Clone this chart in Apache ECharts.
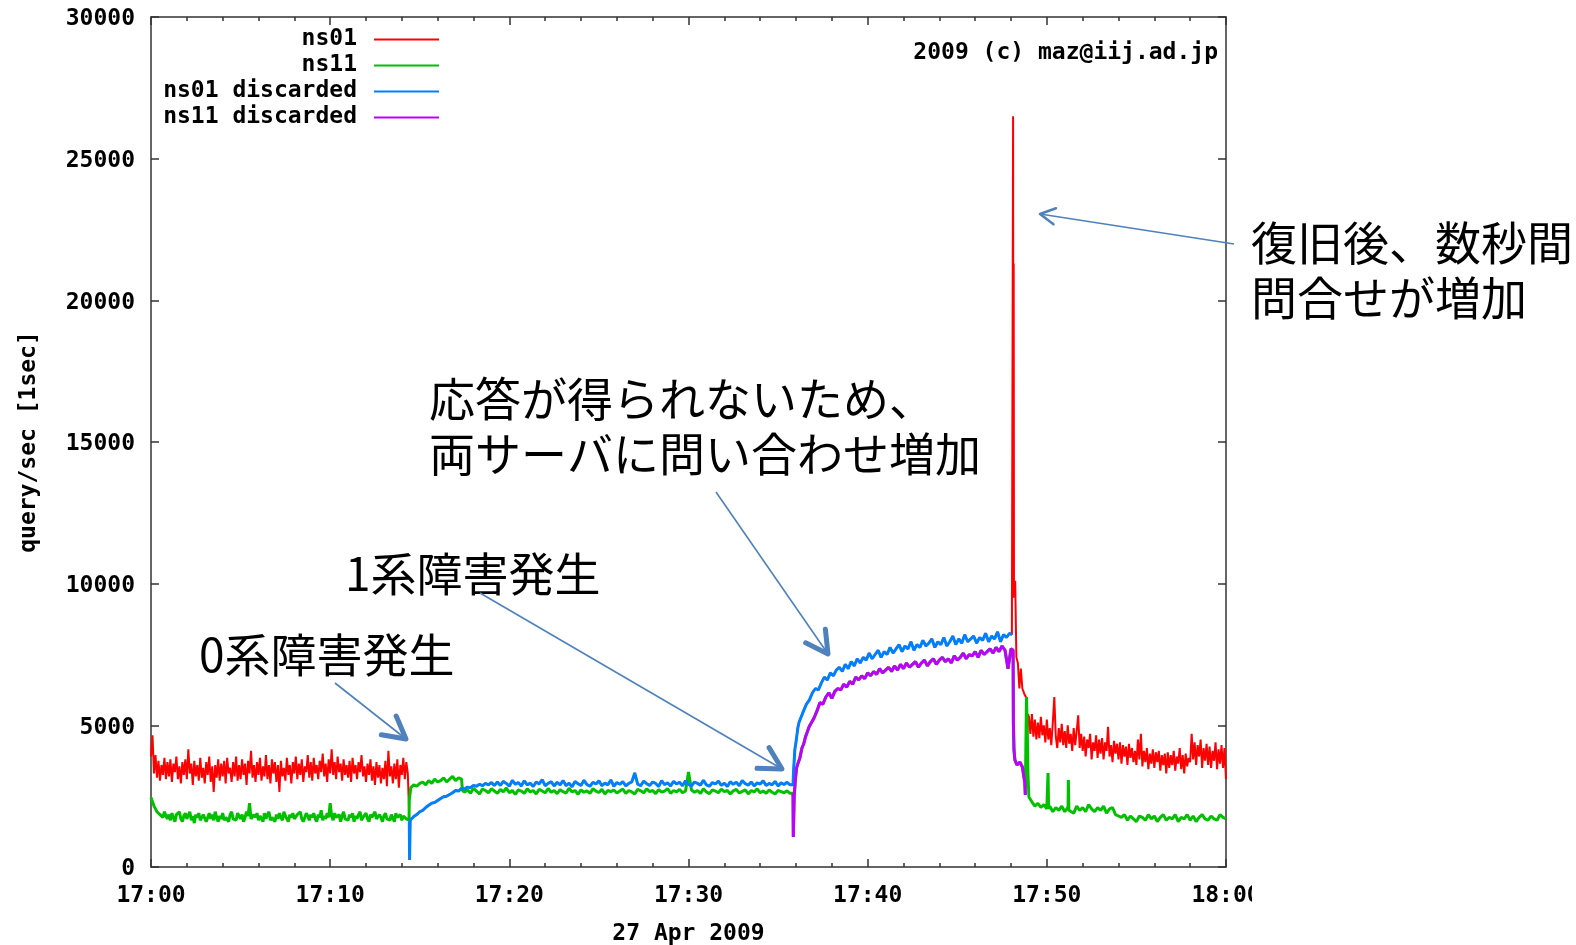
<!DOCTYPE html>
<html><head><meta charset="utf-8">
<script src="https://cdn.jsdelivr.net/npm/echarts/dist/echarts.min.js"></script>
<style>html,body{margin:0;padding:0;background:#fff;}#c{width:1576px;height:945px;}</style>
</head><body><div id="c"></div>
<script>
// time = seconds after 17:00:00
const xTickLabels = ['17:00','17:10','17:20','17:30','17:40','17:50','18:00'];
const yTickLabels = ['0','5000','10000','15000','20000','25000','30000'];
const seriesNames = ['ns01','ns11','ns01 discarded','ns11 discarded'];

// ns01 (red) before failure: every 5 s, t = 0..860
const ns01Before = [
 3900, 4650, 3300, 3950, 3150, 3750, 3050, 3600, 3250, 3850, 3100, 3700,
 3200, 3800, 3000, 3650, 3350, 3900, 3100, 3550, 2950, 3700, 3250, 3800,
 3100, 4150, 3300, 3650, 2900, 3750, 3200, 3600, 3050, 3850, 3150, 3500,
 2950, 3700, 3250, 3900, 3000, 3550, 2650, 3600, 3150, 3800, 3050, 3650,
 3200, 3750, 2950, 3850, 3300, 3500, 3000, 3700, 3200, 3900, 3050, 3600,
 3100, 3800, 3250, 3650, 2900, 3750, 3300, 4100, 3150, 3600, 3000, 3700,
 3250, 3850, 3050, 3550, 3200, 3950, 3100, 3600, 2950, 3800, 3300, 3700,
 3000, 3600, 2650, 3750, 3200, 3500, 3050, 3850, 3250, 3600, 2950, 3700,
 3300, 3900, 3100, 3650, 3250, 3800, 3000, 3550, 3350, 3950, 3150, 3700,
 3050, 3850, 3300, 3600, 3100, 3750, 3350, 4000, 3200, 3650, 3000, 3800,
 3300, 4150, 3250, 3700, 3100, 3900, 3350, 3650, 3050, 3800, 3250, 3600,
 3150, 3750, 3000, 3850, 3300, 3600, 3100, 3700, 3350, 3950, 3200, 3550,
 3000, 3650, 3250, 3800, 3050, 3550, 2900, 3700, 3150, 3600, 2950, 3500,
 3100, 3750, 2850, 4100, 3200, 3550, 2950, 3650, 3100, 3800, 2800, 3600,
 3250, 3850, 3100, 3700, 3300];
const ns01BeforeEvents = [[863, 2360]];
// ns01 after recovery
const ns01AfterEvents = [[2887, 26500], [2888, 9500], [2889, 21300], [2890, 9700], [2894, 10100],
 [2898, 7400], [2903, 7200], [2908, 6300], [2913, 7000], [2918, 6300], [2925, 6100], [2930, 6000],
 [2934, 4500], [2937, 5400]];
// every 5 s, t = 2940..3600
const ns01After = [
 5300, 4700, 5400, 4600, 5200, 4500, 5100, 4550, 5300, 4650, 5000, 4400,
 5200, 4500, 4900, 4300, 5100, 6000, 4600, 4200, 4900, 4400, 5050, 4300,
 4800, 4200, 5000, 4350, 4700, 4100, 4900, 4300, 4800, 5350, 4200, 4700,
 4100, 4600, 3900, 4500, 4200, 4700, 3800, 4400, 4100, 4650, 3850, 4500,
 4000, 4550, 3800, 4400, 4100, 4950, 3900, 4300, 3700, 4450, 4000, 4350,
 3800, 4400, 3650, 4300, 3900, 4250, 3600, 4350, 3850, 4200, 3700, 4100,
 3600, 4500, 3800, 4700, 3550, 4100, 3700, 4200, 3450, 4000, 3650, 4150,
 3500, 4050, 3700, 4100, 3400, 3950, 3600, 4000, 3300, 4050, 3500, 3950,
 3600, 4100, 3400, 3900, 3650, 4200, 3450, 3950, 3300, 4000, 3550, 3850,
 3700, 4700, 3800, 4400, 3600, 4300, 3900, 4500, 3500, 4200, 3750, 4350,
 3600, 4250, 3500, 4100, 3750, 4400, 3450, 4150, 3650, 4300, 3500, 4200,
 3100];

// ns11 (green) before ns01 failure: every 5 s, t = 0..860
const ns11Start = [
 2450, 2300, 2150, 2050, 1950, 2000, 1850, 1900, 1750, 1950, 1800, 1700,
 1850, 1650, 1900, 1750, 1600, 1850, 1800, 1950, 1700, 1600, 1800, 1900,
 1700, 1750, 1950, 1650, 1800, 1550, 1850, 1750, 1900, 1650, 1700, 1850,
 1800, 1600, 1750, 1900, 1700, 1850, 1650, 1950, 1750, 1600, 1800, 1700,
 1900, 1650, 1750, 1800, 1600, 1850, 1950, 1700, 1750, 1650, 1900, 1800,
 1700, 1850, 1600, 1750, 1950, 1800, 2250, 1700, 1650, 1850, 1750, 1900,
 1650, 1800, 1750, 1600, 1900, 1700, 1850, 1950, 1650, 1750, 1800, 1600,
 1850, 1700, 1900, 1750, 1650, 1950, 1800, 1700, 1600, 1850, 1750, 1900,
 1700, 1650, 1850, 1800, 1950, 1700, 1600, 1750, 1900, 1800, 1650, 1850,
 1750, 1900, 1700, 1600, 1850, 1750, 2000, 1650, 1800, 1700, 1900, 1750,
 2250, 1800, 1650, 1900, 1750, 1700, 1850, 1600, 1800, 1950, 1700, 1750,
 1650, 1850, 1750, 1900, 1600, 1800, 1700, 1850, 1950, 1650, 1750, 1800,
 1900, 1700, 1600, 1850, 1750, 1800, 1950, 1700, 1650, 1850, 1750, 1600,
 1800, 1900, 1700, 1750, 1650, 1850, 1800, 1600, 1900, 1750, 1700, 1850,
 1650, 1800, 1750, 1700, 1750];
// ns11 (green) while ns01 down: every 10 s, t = 870..2140
const ns11Mid = [
 2800, 2900, 2850, 2950, 3000, 2900, 3050, 2950, 3100, 3000, 3050, 3150, 3000, 3100, 3200, 3050, 3150, 3100,
 2650, 2720, 2600, 2780, 2680, 2580, 2750, 2700, 2620, 2760,
 2680, 2600, 2740, 2650, 2790, 2620, 2700, 2560, 2720, 2680,
 2600, 2760, 2650, 2700, 2580, 2740, 2680, 2620, 2770, 2640,
 2700, 2590, 2730, 2660, 2610, 2780, 2650, 2700, 2570, 2720,
 2640, 2690, 2600, 2760, 2680, 2630, 2740, 2580, 2700, 2660,
 2720, 2610, 2680, 2750, 2600, 2700, 2650, 2580, 2740, 2690,
 2620, 2760, 2660, 2700, 2590, 2730, 2640, 2680, 2770, 2600,
 2700, 2650, 2740, 2620, 2680, 3350, 2720, 2640, 2700, 2600,
 2760, 2650, 2590, 2720, 2680, 2620, 2750, 2660, 2700, 2580,
 2690, 2740, 2610, 2670, 2720, 2580, 2700, 2650, 2760, 2620,
 2680, 2600, 2720, 2640, 2580, 2700, 2660, 2620, 2690, 2600];
const ns11BeforeEvents = [[864, 1650], [865, 2360], [1043, 2700]];
const ns11AfterEvents = [[2930, 4480], [2932, 6000], [2935, 4500], [2937, 3180], [2940, 2470],
 [3003, 2100], [3004, 3320], [3006, 2050], [3071, 2000], [3072, 3070], [3074, 2000]];
// every 10 s, t = 2950..3600
const ns11After = [
 2300, 2150, 2250, 2100, 2200, 2050, 2150, 1950, 2100, 2000,
 2150, 1950, 2100, 2050, 1900, 2150, 2000, 2100, 1950, 2200,
 2050, 1950, 2100, 2000, 2150, 1900, 2050, 2100, 1850, 1800,
 1750, 1850, 1650, 1800, 1700, 1600, 1800, 1750, 1650, 1850,
 1700, 1800, 1600, 1750, 1850, 1650, 1750, 1700, 1850, 1600,
 1750, 1700, 1850, 1650, 1800, 1600, 1750, 1850, 1700, 1650,
 1800, 1700, 1650, 1850, 1750, 1700];

// ns01 discarded (blue)
const ns01DiscEvents = [[865, 1590], [866, 250], [868, 1650],
 [2150, 2900], [2152, 3420], [2156, 4130], [2161, 4480], [2166, 4900], [2170, 5100], [2883, 8200]];
// every 10 s, t = 870..2140
const ns01DiscA = [
 1650, 1780, 1850, 1950, 2000, 2100, 2180, 2250, 2280, 2350,
 2420, 2480, 2500, 2560, 2620, 2700, 2680, 2780, 2750, 2820,
 2800, 2880, 2850, 2920, 2870, 2950, 2900, 2980, 2880, 3000,
 2880, 3020, 2950, 2850, 3060, 2920, 2980, 2860, 3040, 2900,
 2960, 2840, 3000, 2930, 3080, 2870, 2950, 3010, 2860, 2990,
 2900, 3050, 2870, 2960, 2830, 3020, 2940, 2880, 3060, 2910,
 2850, 2990, 2930, 3040, 2870, 2960, 2900, 3070, 2850, 2980,
 2920, 3010, 2860, 2950, 3000, 3320, 2920, 2870, 3030, 2940,
 2880, 3000, 2950, 2840, 3050, 2910, 2970, 2860, 3020, 2930,
 2990, 2870, 3040, 2920, 2860, 3000, 2950, 2890, 3060, 2900,
 2850, 2980, 2930, 3030, 2880, 2960, 2840, 3010, 2920, 2990,
 2870, 3050, 2940, 2890, 3000, 2860, 2970, 2930, 3040, 2880,
 2950, 2900, 3020, 2860, 2970, 2910, 2990, 2900];
// every 10 s, t = 2175..2875
const ns01DiscB = [
 5150, 5500, 5750, 5900, 6150, 6300, 6250, 6500, 6700, 6600,
 6850, 6750, 6950, 7050, 6900, 7150, 7000, 7250, 7100, 7350,
 7200, 7400, 7300, 7550, 7350, 7500, 7650, 7400, 7600, 7500,
 7750, 7550, 7700, 7850, 7600, 7800, 7700, 7950, 7650, 7850,
 7750, 8000, 7800, 7900, 8050, 7750, 7950, 7850, 8100, 7800,
 7950, 8150, 7850, 8050, 7900, 8200, 7950, 8050, 8150, 7900,
 8100, 8000, 8250, 7950, 8150, 8050, 8300, 7950, 8200, 8100,
 8250];

// ns11 discarded (magenta)
const ns11DiscEvents = [[2150, 2600], [2151, 1060], [2154, 2500], [2158, 3100], [2162, 3500],
 [2168, 3700], [2173, 3850], [2180, 4200], [2186, 4350], [2192, 4600], [2198, 4650], [2204, 4950],
 [2887, 7650], [2888, 5080], [2890, 4130], [2893, 3780], [2900, 3600], [2910, 3700], [2918, 3530],
 [2923, 3600], [2926, 3000], [2928, 2540]];
// every 10 s, t = 2210..2880
const ns11Disc = [
 5000, 5250, 5500, 5800, 5750, 6000, 6150, 5950, 6200, 6300,
 6250, 6450, 6350, 6550, 6450, 6700, 6600, 6750, 6650, 6850,
 6750, 6900, 6800, 7000, 6850, 6950, 7050, 6900, 7100, 6950,
 7150, 7000, 7200, 7050, 7150, 7250, 7050, 7200, 7300, 7100,
 7250, 7350, 7150, 7300, 7400, 7250, 7350, 7200, 7450, 7300,
 7400, 7550, 7350, 7500, 7450, 7600, 7400, 7650, 7500, 7600,
 7700, 7550, 7750, 7600, 7800, 7650, 7000, 7700];

function seq(start, step, vals) { return vals.map((v, i) => [start + i * step, v]); }
function merge(...parts) { return [].concat(...parts).sort((a, b) => a[0] - b[0]); }

const blueData = merge(ns01DiscEvents, seq(870, 10, ns01DiscA), seq(2175, 10, ns01DiscB));
const magentaData = merge(ns11DiscEvents, seq(2210, 10, ns11Disc));
// while a server is down all its queries are discarded: total == discarded (drawn underneath)
const redData = merge(seq(0, 5, ns01Before), ns01BeforeEvents, blueData, ns01AfterEvents, seq(2940, 5, ns01After));
const greenData = merge(seq(0, 5, ns11Start), ns11BeforeEvents, seq(870, 10, ns11Mid), magentaData, ns11AfterEvents, seq(2950, 10, ns11After));

const colors = ['#ff0000', '#00c000', '#0080ff', '#c000ff'];
const widths = [2, 3, 3, 3];
const MONO = '"DejaVu Sans Mono", "Liberation Mono", monospace';
const JP = '"Noto Sans CJK JP", "Noto Sans CJK SC", sans-serif';
const AXC = '#333';
const ARC = '#4f81bd';
const FS = 23;

const chart = echarts.init(document.getElementById('c'), null, {renderer: 'canvas'});

function arrow(x1, y1, x2, y2, head, w) {
  const a = Math.atan2(y2 - y1, x2 - x1);
  const p1 = [x2 - head * Math.cos(a - 0.5), y2 - head * Math.sin(a - 0.5)];
  const p2 = [x2 - head * Math.cos(a + 0.5), y2 - head * Math.sin(a + 0.5)];
  return [
    {type: 'line', shape: {x1, y1, x2, y2}, style: {stroke: ARC, lineWidth: 1.6}, z: 50},
    {type: 'polyline', shape: {points: [p1, [x2, y2], p2]}, style: {stroke: ARC, lineWidth: w, fill: null, lineCap: 'round', lineJoin: 'round'}, z: 50}
  ];
}
function jpText(str, x, y) {
  return {type: 'text', x: x, y: y, z: 50,
    style: {text: str, font: '46px ' + JP, fill: '#000', align: 'left', verticalAlign: 'middle'}};
}

const tickX = (v) => xTickLabels[Math.round(v / 600)];
const tickY = (v) => '{a|' + yTickLabels[Math.round(v / 5000)] + '}';

const xBase = {type: 'value', min: 0, max: 3600, interval: 600,
  axisLine: {show: true, onZero: false, lineStyle: {color: AXC, width: 1.5}},
  axisTick: {show: true, inside: true, length: 8, lineStyle: {color: AXC, width: 1.5}},
  minorTick: {show: true, splitNumber: 5, length: 4, lineStyle: {color: AXC, width: 1.5}},
  splitLine: {show: false}, minorSplitLine: {show: false}};
const yBase = {type: 'value', min: 0, max: 30000, interval: 5000,
  axisLine: {show: true, onZero: false, lineStyle: {color: AXC, width: 1.5}},
  axisTick: {show: true, inside: true, length: 8, lineStyle: {color: AXC, width: 1.5}},
  splitLine: {show: false}};
const labelFont = {fontFamily: MONO, fontWeight: 'bold', fontSize: FS, color: '#000'};

const option = {
  backgroundColor: '#fff',
  animation: false,
  grid: {left: 151, right: 350, top: 17, bottom: 78, containLabel: false, outerBoundsMode: 'none'},
  xAxis: [
    Object.assign({}, xBase, {position: 'bottom',
      axisLabel: Object.assign({show: true, margin: 18, formatter: tickX, showMinLabel: true, showMaxLabel: true}, labelFont),
      name: '27 Apr 2009', nameLocation: 'middle', nameGap: 56,
      nameTextStyle: Object.assign({}, labelFont)}),
    Object.assign({}, xBase, {position: 'top', axisLabel: {show: false}})
  ],
  yAxis: [
    Object.assign({}, yBase, {position: 'left',
      axisLabel: Object.assign({show: true, margin: 16, formatter: tickY, showMinLabel: true, showMaxLabel: true,
        rich: {a: Object.assign({padding: [5, 0, 0, 0]}, labelFont)}}, labelFont),
      name: 'query/sec [1sec]', nameLocation: 'middle', nameGap: 110, nameRotate: 90,
      nameTextStyle: Object.assign({}, labelFont)}),
    Object.assign({}, yBase, {position: 'right', axisLabel: {show: false}})
  ],
  legend: seriesNames.map((n, i) => ({
    data: [n], orient: 'vertical', align: 'right', right: 1576 - 440, top: 28 + 26 * i,
    padding: 0, itemWidth: 65, itemHeight: 14, selectedMode: false,
    itemStyle: {color: 'rgba(0,0,0,0)', borderColor: 'rgba(0,0,0,0)', borderWidth: 0, opacity: 0},
    lineStyle: {width: 2},
    formatter: '{a|{name}}',
    textStyle: {rich: {a: {fontFamily: MONO, fontWeight: 'bold', fontSize: FS, color: '#000', padding: [0, 12, 0, 0], lineHeight: 14}}}
  })),
  series: [0, 1, 2, 3].map(i => ({
    type: 'line', name: seriesNames[i], data: [redData, greenData, blueData, magentaData][i],
    xAxisIndex: 0, yAxisIndex: 0, symbol: 'none', showSymbol: false, silent: true,
    color: colors[i], lineStyle: {width: widths[i], color: colors[i]}, itemStyle: {color: colors[i]}
  })),
  graphic: [
    {type: 'text', x: 1218, y: 53, z: 50, style: {text: '2009 (c) maz@iij.ad.jp', font: 'bold ' + FS + 'px ' + MONO, fill: '#000', align: 'right', verticalAlign: 'middle'}},
    jpText('応答が得られないため、', 429, 399),
    jpText('両サーバに問い合わせ増加', 429, 454),
    jpText('1系障害発生', 345, 574),
    jpText('0系障害発生', 199, 655),
    jpText('復旧後、数秒間', 1251, 243),
    jpText('問合せが増加', 1251, 298),
    ...arrow(335, 683, 406, 739, 25, 5),
    ...arrow(480, 593, 782, 769, 25, 5),
    ...arrow(716, 492, 828, 654, 25, 5),
    ...arrow(1234, 244, 1040, 214, 17, 2.5),
    {type: 'rect', shape: {x: 1252, y: 876, width: 80, height: 36}, style: {fill: '#fff'}, z: 100}
  ]
};
chart.setOption(option);
</script>
</body></html>
